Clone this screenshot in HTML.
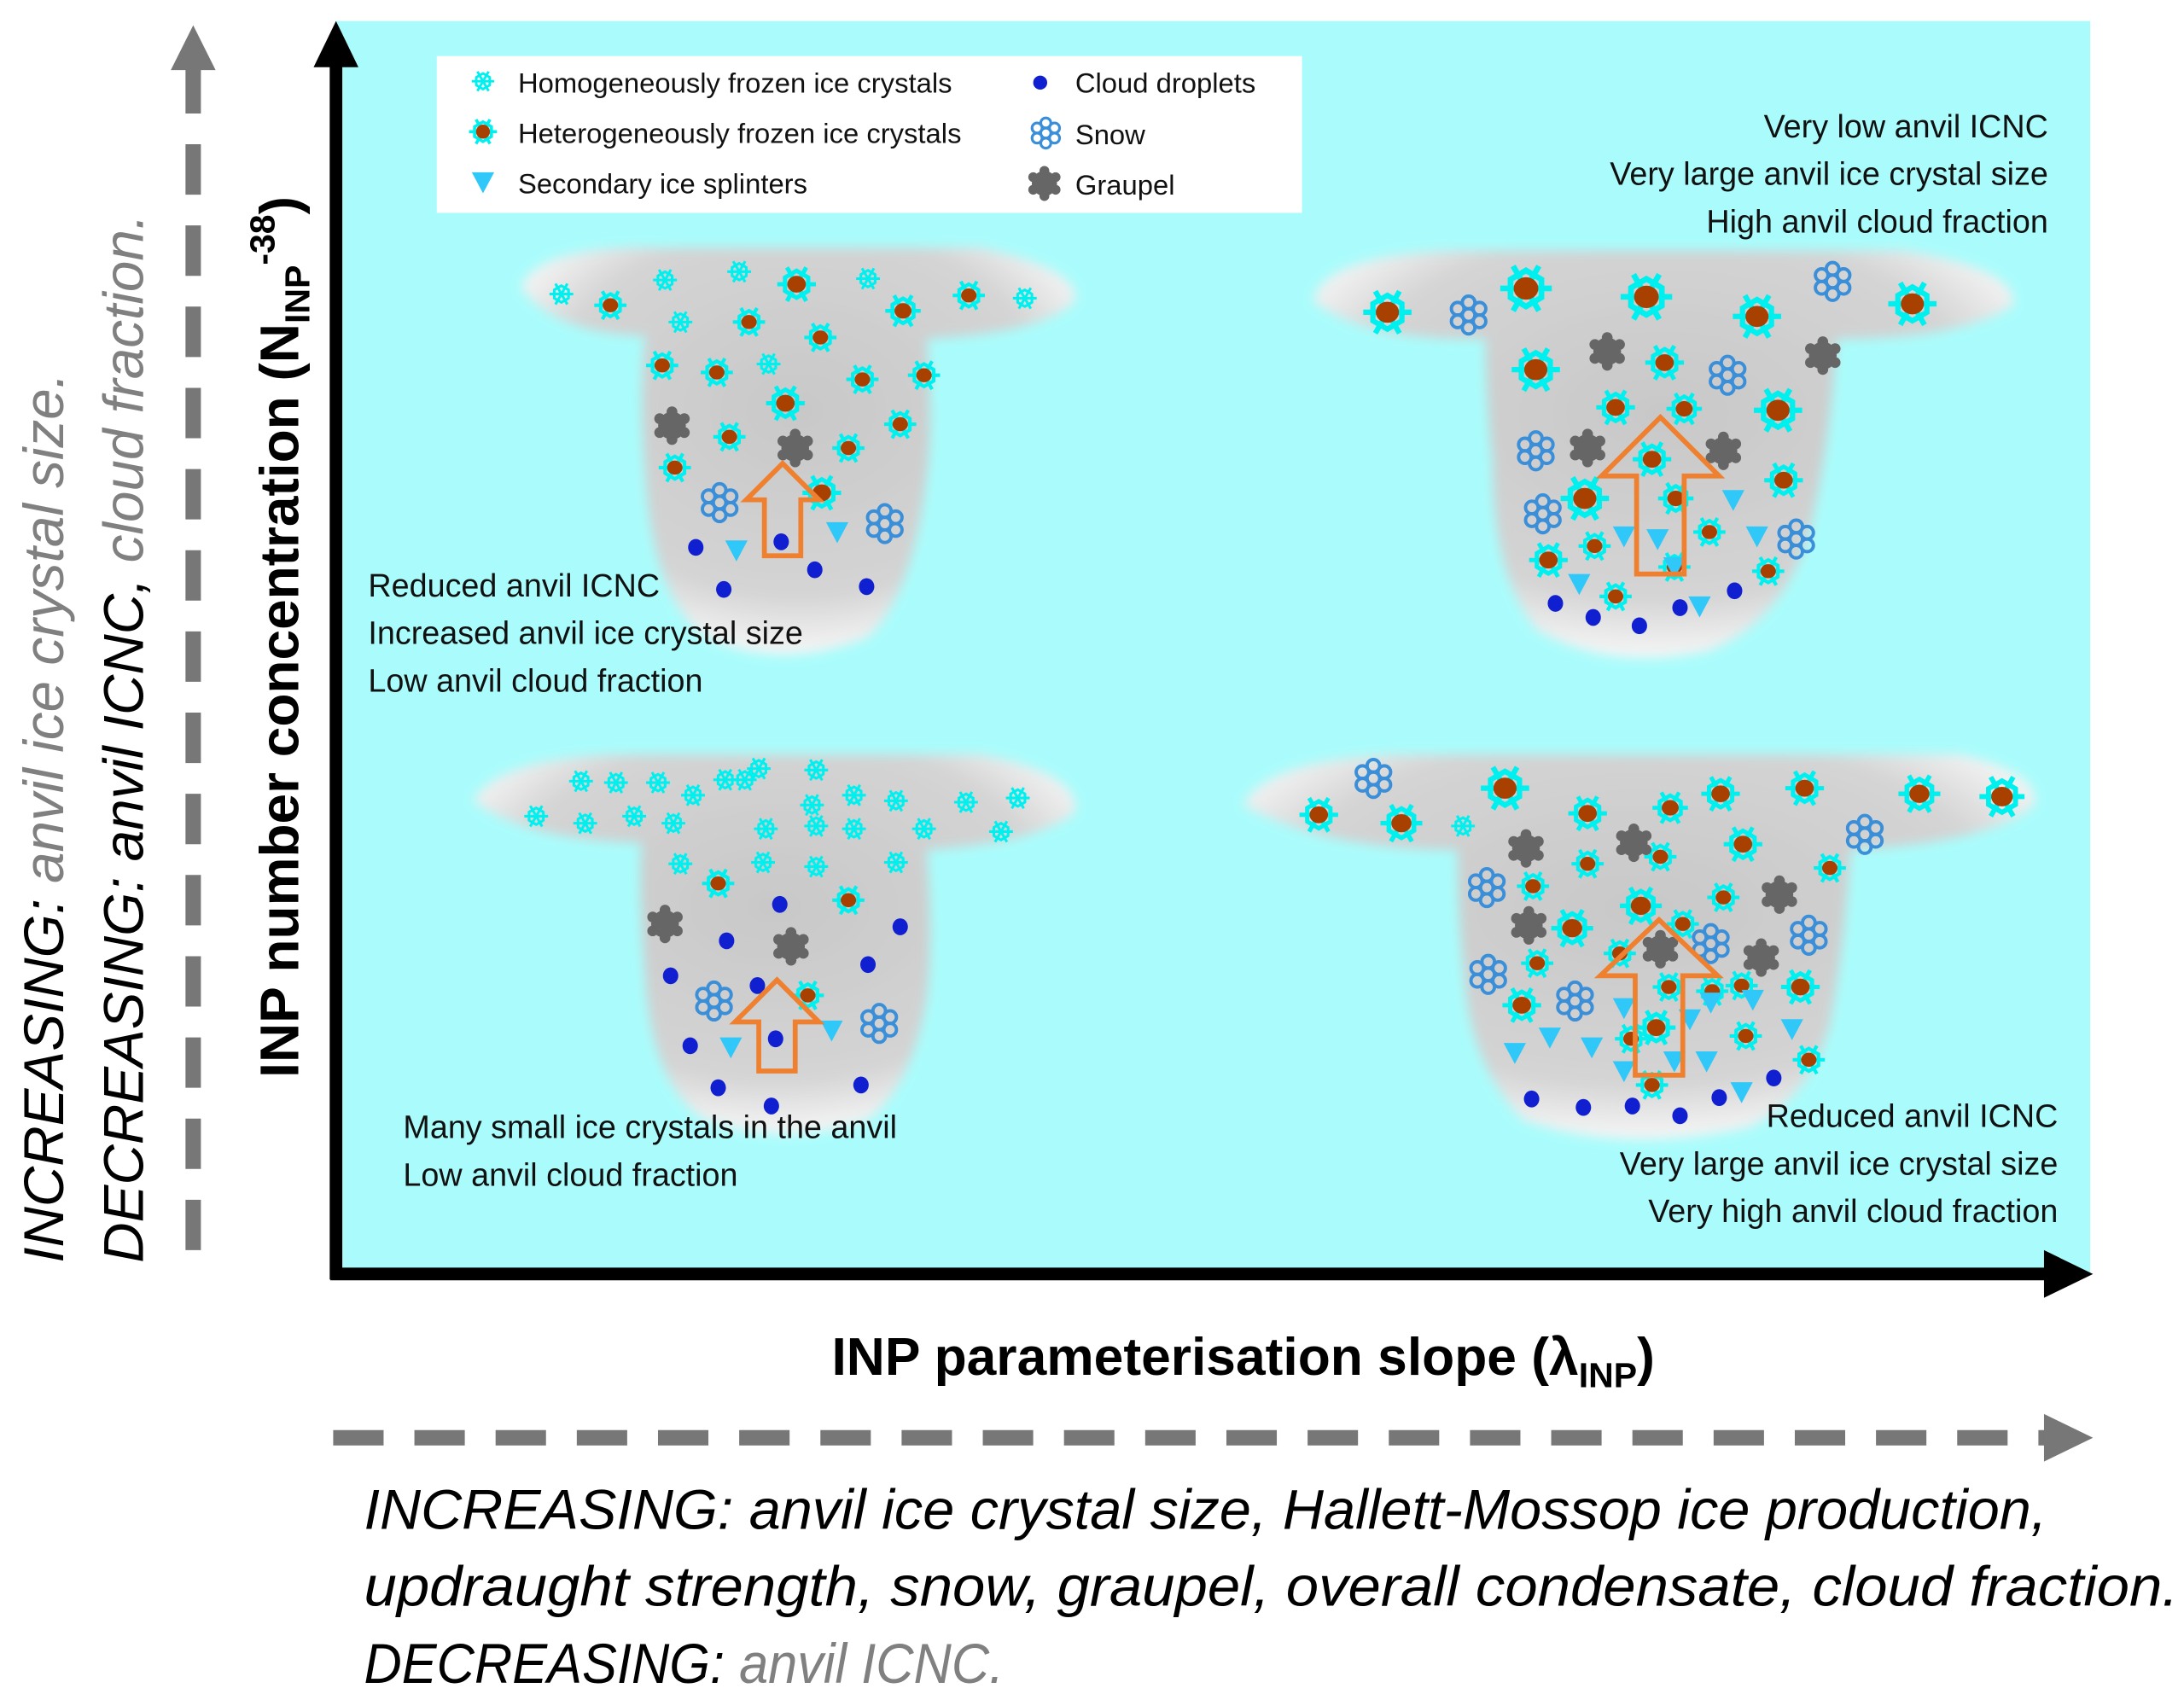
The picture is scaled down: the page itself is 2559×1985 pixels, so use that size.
<!DOCTYPE html>
<html><head><meta charset="utf-8"><style>
html,body{margin:0;padding:0;background:#fff}
svg{display:block}
text{font-family:"Liberation Sans","DejaVu Sans",sans-serif}
</style></head><body>
<svg id="fig" width="2559" height="1985" viewBox="0 0 1560 1210" xmlns="http://www.w3.org/2000/svg">
<defs>
<radialGradient id="cg" cx="50%" cy="40%" r="60%"><stop offset="0" stop-color="#c8c8c8"/><stop offset="0.75" stop-color="#d4d4d4"/><stop offset="1" stop-color="#f6f6f6"/></radialGradient>
<filter id="blur"><feGaussianBlur stdDeviation="4"/></filter>
<g id="flake"><g stroke="#00f0f0" stroke-width="2.2" fill="none"><line x1="-10" y1="0" x2="10" y2="0"/><line x1="-5" y1="-8.7" x2="5" y2="8.7"/><line x1="-5" y1="8.7" x2="5" y2="-8.7"/><polygon points="0,-7 6,-3.5 6,3.5 0,7 -6,3.5 -6,-3.5"/></g></g>
<g id="snow"><g stroke="#3a8fd8" stroke-width="1.6" fill="none"><circle r="3"/><circle cx="0" cy="-6" r="3"/><circle cx="0" cy="6" r="3"/><circle cx="5.2" cy="-3" r="3"/><circle cx="-5.2" cy="-3" r="3"/><circle cx="5.2" cy="3" r="3"/><circle cx="-5.2" cy="3" r="3"/></g></g>
<g id="graupel"><circle r="9" fill="#666"/><circle cx="0" cy="-9" r="3.5" fill="#666"/><circle cx="0" cy="9" r="3.5" fill="#666"/><circle cx="8" cy="-4.5" r="3.5" fill="#666"/><circle cx="-8" cy="-4.5" r="3.5" fill="#666"/><circle cx="8" cy="4.5" r="3.5" fill="#666"/><circle cx="-8" cy="4.5" r="3.5" fill="#666"/></g>
</defs>

<rect x="240" y="15" width="1253" height="895" fill="#aafcfc"/>

<g id="clouds" filter="url(#blur)">
 <path d="M372,205 Q385,175 470,177 L700,177 Q772,192 768,215 Q745,238 662,242 Q667,300 662,340 Q652,425 620,455 Q560,480 503,455 Q466,425 461,340 Q456,280 461,240 Q395,238 372,205Z" fill="url(#cg)"/>
 <path d="M938,215 Q945,182 1040,179 L1360,179 Q1442,192 1438,218 Q1402,242 1312,242 Q1307,320 1292,382 Q1272,445 1220,465 Q1150,480 1098,450 Q1066,412 1066,330 Q1061,280 1061,242 Q975,244 938,215Z" fill="url(#cg)"/>
 <path d="M338,572 Q355,542 440,539 L700,539 Q772,552 768,580 Q742,602 662,607 Q667,670 662,712 Q652,775 620,800 Q560,820 503,800 Q466,775 461,700 Q456,640 458,602 Q375,600 338,572Z" fill="url(#cg)"/>
 <path d="M888,575 Q905,542 1000,539 L1400,539 Q1458,552 1453,575 Q1422,602 1322,607 Q1317,680 1307,732 Q1292,785 1250,805 Q1160,825 1088,800 Q1051,762 1046,700 Q1041,650 1041,607 Q945,607 888,575Z" fill="url(#cg)"/>
</g>

<g id="marks"></g>

<rect x="312" y="40" width="618" height="112" fill="#fff"/>
<g font-size="20" fill="#111">
 <use href="#flake" transform="translate(345,58) scale(0.8)"/><text x="370" y="66">Homogeneously frozen ice crystals</text>
 <use href="#flake" transform="translate(345,94) scale(1)"/><circle cx="345" cy="94" r="5" fill="#a84000"/><text x="370" y="102">Heterogeneously frozen ice crystals</text>
 <polygon points="337,123 353,123 345,138" fill="#30c8f8"/><text x="370" y="138">Secondary ice splinters</text>
 <circle cx="743" cy="59" r="5" fill="#1020d0"/><text x="768" y="66">Cloud droplets</text>
 <use href="#snow" transform="translate(747,95) scale(1.2)"/><text x="768" y="103">Snow</text>
 <use href="#graupel" transform="translate(746,131)"/><text x="768" y="139">Graupel</text>
</g>

<g font-size="23" fill="#111">
 <text text-anchor="end" x="1463"><tspan x="1463" y="98">Very low anvil ICNC</tspan><tspan x="1463" y="132">Very large anvil ice crystal size</tspan><tspan x="1463" y="166">High anvil cloud fraction</tspan></text>
 <text x="263"><tspan x="263" y="426">Reduced anvil ICNC</tspan><tspan x="263" y="460">Increased anvil ice crystal size</tspan><tspan x="263" y="494">Low anvil cloud fraction</tspan></text>
 <text x="288"><tspan x="288" y="813">Many small ice crystals in the anvil</tspan><tspan x="288" y="847">Low anvil cloud fraction</tspan></text>
 <text text-anchor="end"><tspan x="1470" y="805">Reduced anvil ICNC</tspan><tspan x="1470" y="839">Very large anvil ice crystal size</tspan><tspan x="1470" y="873">Very high anvil cloud fraction</tspan></text>
</g>

<line x1="240" y1="40" x2="240" y2="914" stroke="#000" stroke-width="9"/>
<polygon points="224,48 240,15 256,48" fill="#000"/>
<line x1="236" y1="910" x2="1465" y2="910" stroke="#000" stroke-width="9"/>
<polygon points="1460,893 1495,910 1460,927" fill="#000"/>

<text transform="translate(213,455) rotate(-90)" text-anchor="middle" font-size="39" font-weight="bold">INP number concentration (N<tspan font-size="25" dy="8">INP</tspan><tspan font-size="25" dy="-25">-38</tspan><tspan dy="17">)</tspan></text>
<text x="888" y="982" text-anchor="middle" font-size="38" font-weight="bold">INP parameterisation slope (λ<tspan font-size="25" dy="9">INP</tspan><tspan dy="-9">)</tspan></text>

<line x1="138" y1="45" x2="138" y2="902" stroke="#777" stroke-width="11" stroke-dasharray="36,22"/>
<polygon points="122,50 138,18 154,50" fill="#777"/>
<line x1="238" y1="1027" x2="1462" y2="1027" stroke="#777" stroke-width="11" stroke-dasharray="36,22"/>
<polygon points="1460,1010 1495,1027 1460,1044" fill="#777"/>

<text transform="translate(45,902) rotate(-90)" font-size="40" font-style="italic">INCREASING: <tspan fill="#808080">anvil ice crystal size.</tspan></text>
<text transform="translate(102,902) rotate(-90)" font-size="40" font-style="italic">DECREASING: anvil ICNC, <tspan fill="#808080">cloud fraction.</tspan></text>

<g font-size="40" font-style="italic">
 <text x="260" y="1092" textLength="1202" lengthAdjust="spacingAndGlyphs">INCREASING: anvil ice crystal size, Hallett-Mossop ice production,</text>
 <text x="260" y="1147" textLength="1296" lengthAdjust="spacingAndGlyphs">updraught strength, snow, graupel, overall condensate, cloud fraction.</text>
 <text x="260" y="1202" textLength="457" lengthAdjust="spacingAndGlyphs">DECREASING: <tspan fill="#808080">anvil ICNC.</tspan></text>
</g>
</svg>
<script>
// schematic particle placements: [x, y, type, scale]
const hom=[[401,210],[475,200],[528,194],[620,199],[732,213],[486,230],[549,260],[532,557],[542,549],[583,550],[415,558],[440,559],[470,559],[495,568],[383,583],[418,588],[453,583],[481,588],[547,592],[583,590],[610,592],[660,592],[690,573],[727,570],[715,594],[518,557],[610,568],[545,616],[583,619],[640,616],[580,575],[640,572],[486,617],[1045,590]];
const het=[[436,218,1],[569,203,1.2],[535,230,1],[586,241,1],[645,222,1.1],[692,211,1],[473,261,1],[512,266,1],[616,271,1],[660,268,1],[561,288,1.2],[643,303,1],[521,312,1],[606,320,1],[482,334,1],[587,352,1.2],
[991,223,1.5],[1090,206,1.6],[1176,212,1.6],[1255,226,1.5],[1366,217,1.5],[1097,264,1.5],[1189,259,1.2],[1154,291,1.2],[1203,292,1.1],[1270,293,1.5],[1180,328,1.2],[1132,356,1.5],[1197,356,1.1],[1274,343,1.2],[1139,390,1],[1221,380,1],[1106,400,1.2],[1154,426,1],[1263,408,1],[1196,405,1],
[513,631,1],[606,643,1],[577,711,1],
[1075,563,1.5],[1134,581,1.2],[1193,577,1.1],[1229,567,1.2],[1289,563,1.2],[1371,567,1.3],[1430,569,1.4],[942,582,1.2],[1001,588,1.3],[1245,603,1.2],[1134,617,1],[1186,612,1],[1231,641,1],[1307,620,1],[1095,633,1],[1172,647,1.3],[1123,663,1.3],[1202,660,1],[1098,688,1],[1157,681,1],[1192,705,1],[1244,704,1],[1286,705,1.2],[1087,718,1.2],[1183,734,1.2],[1165,742,1],[1247,740,1],[1223,708,1],[1292,757,1],[1180,775,1]];
const drops=[[497,391],[558,387],[517,421],[582,407],[619,419],[1111,431],[1138,441],[1171,447],[1200,434],[1239,422],[557,646],[643,662],[519,672],[620,689],[479,697],[541,704],[554,742],[493,747],[513,777],[551,790],[615,775],[1094,785],[1131,791],[1166,790],[1200,797],[1228,784],[1267,770]];
const tri=[[526,393],[598,380],[1238,357],[1160,383],[1184,385],[1255,383],[1128,417],[1214,433],[1196,405],[522,748],[594,736],[1082,752],[1107,741],[1137,748],[1160,720],[1222,716],[1252,714],[1219,758],[1280,735],[1160,765],[1196,758],[1244,780],[1207,728]];
const snow=[[514,359],[632,374],[1049,225],[1309,201],[1234,268],[1097,322],[1102,367],[1283,385],[981,556],[1332,596],[1062,634],[1292,668],[1063,696],[1125,715],[1222,674],[510,715],[628,731]];
const graupel=[[480,304],[568,320],[1148,251],[1302,254],[1134,320],[1231,322],[475,660],[565,676],[1090,606],[1167,602],[1271,639],[1092,661],[1186,678],[1258,684]];
const G=document.getElementById('marks');
const NS='http://www.w3.org/2000/svg';
function use(id,x,y,s){const u=document.createElementNS(NS,'use');u.setAttribute('href','#'+id);u.setAttribute('transform','translate('+x+','+y+') scale('+s+')');G.appendChild(u);return u;}
hom.forEach(p=>{const u=use('flake',p[0],p[1],0.85);

});
het.forEach(p=>{const u=use('flake',p[0],p[1],1.15*p[2]);


const c=document.createElementNS(NS,'ellipse');c.setAttribute('cx',p[0]);c.setAttribute('cy',p[1]);c.setAttribute('rx',5.5*p[2]);c.setAttribute('ry',5*p[2]);c.setAttribute('fill','#a84000');


G.appendChild(c);});
snow.forEach(p=>{const u=use('snow',p[0],p[1],1.5);

});
graupel.forEach(p=>{const u=use('graupel',p[0],p[1],1.1);

});
drops.forEach(p=>{const c=document.createElementNS(NS,'ellipse');c.setAttribute('cx',p[0]);c.setAttribute('cy',p[1]);c.setAttribute('rx',5.5);c.setAttribute('ry',6);c.setAttribute('fill','#1020d0');


G.appendChild(c);});
tri.forEach(p=>{const t=document.createElementNS(NS,'polygon');const x=p[0],y=p[1];t.setAttribute('points',(x-8)+','+(y-7)+' '+(x+8)+','+(y-7)+' '+x+','+(y+8));t.setAttribute('fill','#30c8f8');


G.appendChild(t);});
// orange updraught arrows: [cx, tipY, halfWidth, shaftHalf, headY, bottomY]
const arrows=[[559,331,26,13,357,397],[1186,298,42,17,340,410],[555,700,30,13,730,765],[1185,657,42,17,697,768]];
arrows.forEach(a=>{const [cx,ty,hw,sh,hy,by]=a;const p=document.createElementNS(NS,'polygon');
p.setAttribute('points',[[cx,ty],[cx+hw,hy],[cx+sh,hy],[cx+sh,by],[cx-sh,by],[cx-sh,hy],[cx-hw,hy]].map(q=>q.join(',')).join(' '));
p.setAttribute('fill','none');p.setAttribute('stroke','#ee8030');p.setAttribute('stroke-width','3.5');


G.appendChild(p);});
</script>
</body></html>
